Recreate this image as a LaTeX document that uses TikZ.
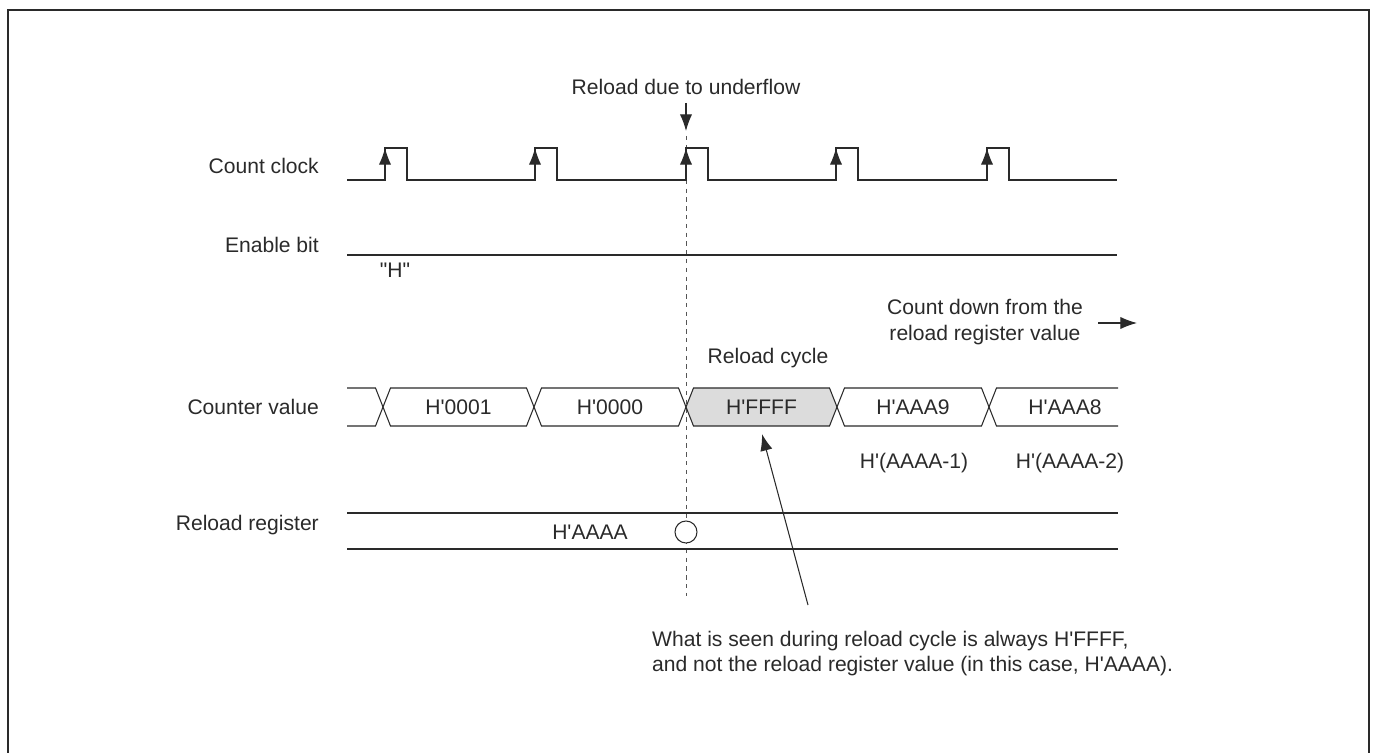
\documentclass[tikz,border=0pt]{standalone}
\usepackage{fontspec}
\setmainfont{Liberation Sans}[Ligatures=TeXOff]
\usetikzlibrary{arrows.meta, calc}
\definecolor{ink}{HTML}{2A2A2A}
\definecolor{rgray}{HTML}{DCDCDC}

\begin{document}
\begin{tikzpicture}[x=0.02cm, y=-0.02cm,
    every node/.style={font=\fontsize{12}{14.4}\selectfont, text=ink},
    wave/.style={draw=ink, line width=0.6pt},
    tip/.style={-{Latex[length=9.5pt, width=7pt]}},
    sig/.style={anchor=east},
  ]
  \useasboundingbox (0,0) rectangle (1374,753);
  % frame
  \draw[ink, line width=1.2pt] (8,753) -- (8,10) -- (1369,10) -- (1369,753);

  % signal names
  \node[sig] (lclk) at (325,166) {Count clock};
  \node[sig] (len)  at (325,245) {Enable bit};
  \node[sig] (lcnt) at (325,407) {Counter value};
  \node[sig] (lrel) at (325,525) {Reload register};

  % underflow marker
  \node (uf) at (686,87) {Reload due to underflow};
  \coordinate (uftip) at (686,131);
  \draw[wave, tip] (686,103) -- (uftip);
  \draw[draw=ink!80, line width=0.45pt, dash pattern=on 2.5pt off 2.5pt] (686,136) -- (686,596);

  % count clock
  \draw[wave] (347,180)
    \foreach \x in {385,535,686,836,987} { -- (\x,180) -- (\x,148) -- (\x+22,148) -- (\x+22,180) }
    -- (1117,180);
  \foreach \x in {385,535,686,836,987}
    \draw[wave, tip] (\x,178) -- (\x,148);

  % enable bit
  \draw[wave] (347,255) -- (1117,255);
  \node (hi) at (395,270) {"H"};

  % counter value
  \node[align=center] (cdown) at (985,322) {Count down from the\\reload register value};
  \coordinate (cdend) at (1137,323);
  \draw[wave, tip] (1098,323) -- (cdend);
  \node (rcyc) at (768,358) {Reload cycle};

  \draw[wave] (347,388) -- (375.5,388) -- (383,407) -- (375.5,426) -- (347,426);
  \foreach \a/\b/\t/\f [count=\i] in {383/534/H'0001/white, 534/686/H'0000/white,
                                      686/837/H'FFFF/rgray, 837/989/H'AAA9/white} {
    \draw[wave, fill=\f] (\a,407) -- (\a+7.5,388) -- (\b-7.5,388) -- (\b,407)
      -- (\b-7.5,426) -- (\a+7.5,426) -- cycle;
    \node (v\i) at ({(\a+\b)/2},407) {\t};
  }
  \draw[wave] (1118,388) -- (996.5,388) -- (989,407) -- (996.5,426) -- (1118,426);
  \node (v5) at (1065,407) {H'AAA8};
  \node (m1) at (914,463) {H'(AAAA-1)};
  \node (m2) at (1070,463) {H'(AAAA-2)};

  % reload register
  \draw[wave] (347,513) -- (1118,513);
  \draw[wave] (347,549) -- (1118,549);
  \node (rv) at (590,532) {H'AAAA};
  \node[circle, draw=ink, line width=0.6pt, fill=white, minimum size=0.44cm, inner sep=0pt] (rl) at (686,532) {};

  % note
  \node[align=left, anchor=north west] (note) at (646,625)
    {What is seen during reload cycle is always H'FFFF,\\
     and not the reload register value (in this case, H'AAAA).};
  \coordinate (tail) at (808,605);
  \coordinate (ffff) at (762,434);
  \draw[wave, tip] (tail) -- (ffff);
\end{tikzpicture}
\end{document}
